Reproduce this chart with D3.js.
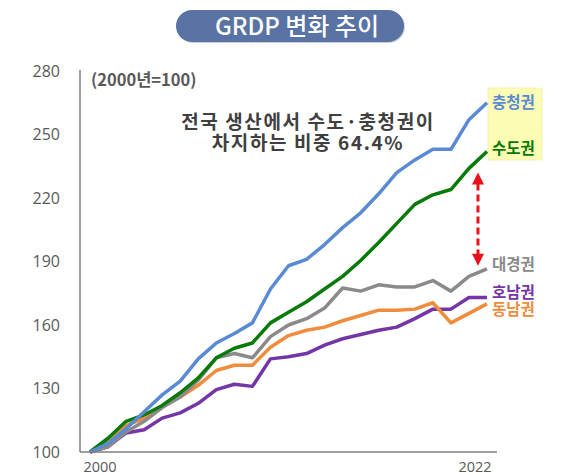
<!DOCTYPE html>
<html><head><meta charset="utf-8">
<script src="https://cdn.jsdelivr.net/npm/d3@7"></script>
<style>
html,body{margin:0;padding:0;background:#fff;}
svg{display:block;font-family:"Noto Sans CJK KR","Noto Sans",sans-serif;}
</style></head>
<body>
<svg id="chart" width="570" height="475"></svg>
<script>
const years = d3.range(2000, 2023);
const yTicks = [100, 130, 160, 190, 220, 250, 280];
const xTickLabels = [2000, 2022];
const seriesNames = ["호남권", "동남권", "대경권", "수도권", "충청권"];
const chungcheong = [100,104,111,119,127,133.5,144,151.5,156,161,177,188,191,198,206,213,222,232,238,243,243,257,265];
const sudo = [100,106.5,114.5,117.5,122,128,135,144.5,149,151.5,161,166,171,177,183,190.5,199,208,217,221.5,224,234,242];
const daegyeong = [100,102.5,109.5,114.5,121,126,134,144.5,146.5,144.5,154.5,160,163,168,177.5,176,179,178,178,181,176,183,186.5];
const dongnam = [100,105,112.5,116,121.5,126,131.5,138.5,141,141,149.5,155,157.5,159,162,164.5,167,167,167.5,170.5,161,165.5,170];
const honam = [100,102.5,109,110.5,116,118.5,123,129.5,132,131,144,145,146.5,150.5,153.5,155.5,157.5,159,163,167.5,167.5,173,173];
const seriesValues = [honam, dongnam, daegyeong, sudo, chungcheong];
const title = "GRDP 변화 추이";
const unitNote = "(2000년=100)";
const noteLines = ["전국 생산에서 수도·충청권이", "차지하는 비중 64.4%"];
const arrowYears = [2021.5];
const arrowValues = [232, 188];

const colors = {"충청권":"#5a8ad4","수도권":"#077a07","대경권":"#8a8a8a","동남권":"#f08c3c","호남권":"#7436a6"};
const labelDy = {"충청권":0,"수도권":-3,"대경권":-4,"호남권":-5,"동남권":6};

const svg = d3.select("#chart");
const x = d3.scaleLinear().domain([2000, 2022]).range([90, 487]);
const y = d3.scaleLinear().domain([100, 280]).range([452, 71]);
const xLab = d3.scaleLinear().domain([2000, 2022]).range([100, 475]);

// title pill
svg.append("rect").attr("x", 177).attr("y", 11).attr("width", 228).attr("height", 32).attr("rx", 16)
  .attr("fill", "#3d4f70").attr("opacity", 0.25);
svg.append("rect").attr("x", 176).attr("y", 10).attr("width", 228).attr("height", 32).attr("rx", 16)
  .attr("fill", "#5873a4");
svg.append("text").attr("x", 297).attr("y", 34.5).attr("text-anchor", "middle")
  .attr("fill", "#fff").attr("font-size", 24).attr("font-weight", 500).text(title);

// highlight box
svg.append("rect").attr("x", 488).attr("y", 88).attr("width", 54).attr("height", 72)
  .attr("fill", "#fdfcb4").attr("stroke", "#f1efb0").attr("stroke-width", 0.8);

// y tick labels
svg.append("g").selectAll("text").data(yTicks).join("text")
  .attr("x", 60).attr("y", d => y(d) + 5.5).attr("text-anchor", "end")
  .attr("fill", "#595959").attr("font-size", 16).attr("font-family", "'Open Sans','Noto Sans',sans-serif")
  .text(d => d);

// x tick labels
svg.append("g").selectAll("text").data(xTickLabels).join("text")
  .attr("x", d => xLab(d)).attr("y", 472).attr("text-anchor", "middle")
  .attr("fill", "#595959").attr("font-size", 14.5).attr("font-family", "'Open Sans','Noto Sans',sans-serif")
  .text(d => d);

// lines
const line = d3.line().x((d, i) => x(years[i])).y(d => y(d));
svg.append("g").selectAll("path").data(seriesValues).join("path")
  .attr("d", d => line(d)).attr("fill", "none")
  .attr("stroke", (d, i) => colors[seriesNames[i]]).attr("stroke-width", 3.5)
  .attr("stroke-linejoin", "round").attr("stroke-linecap", "butt");

// axes lines
svg.append("line").attr("x1", 80).attr("x2", 80).attr("y1", y(280) - 1).attr("y2", y(100))
  .attr("stroke", "#7f7f7f").attr("stroke-width", 1.5);
svg.append("line").attr("x1", 80).attr("x2", 497).attr("y1", y(100)).attr("y2", y(100))
  .attr("stroke", "#7f7f7f").attr("stroke-width", 1.5);

// series labels
svg.append("g").selectAll("text").data(seriesNames).join("text")
  .attr("x", 492).attr("y", (d, i) => y(seriesValues[i][seriesValues[i].length - 1]) + labelDy[d] + 5.5)
  .attr("fill", d => colors[d]).attr("font-size", 15.5).attr("font-weight", 700).text(d => d);

// unit note
svg.append("text").attr("x", 91).attr("y", 86).attr("fill", "#595959")
  .attr("font-size", 16.5).attr("font-weight", 700).text(unitNote);

// annotation
svg.append("g").selectAll("text").data(noteLines).join("text")
  .attr("x", 308).attr("y", (d, i) => 129 + i * 21).attr("text-anchor", "middle")
  .attr("fill", "#404040").attr("font-size", 19).attr("font-weight", 700)
  .attr("letter-spacing", 1.6).text(d => d);

// red dashed double arrow
const ax = x(arrowYears[0]);
const yTop = y(arrowValues[0]), yBot = y(arrowValues[1]);
svg.append("line").attr("x1", ax).attr("x2", ax).attr("y1", yTop + 11).attr("y2", yBot - 11)
  .attr("stroke", "#e8101a").attr("stroke-width", 3).attr("stroke-dasharray", "7,4");
svg.append("path").attr("d", `M${ax},${yTop} L${ax - 6},${yTop + 12} L${ax + 6},${yTop + 12} Z`).attr("fill", "#e8101a");
svg.append("path").attr("d", `M${ax},${yBot} L${ax - 6},${yBot - 12} L${ax + 6},${yBot - 12} Z`).attr("fill", "#e8101a");
</script>
</body></html>
